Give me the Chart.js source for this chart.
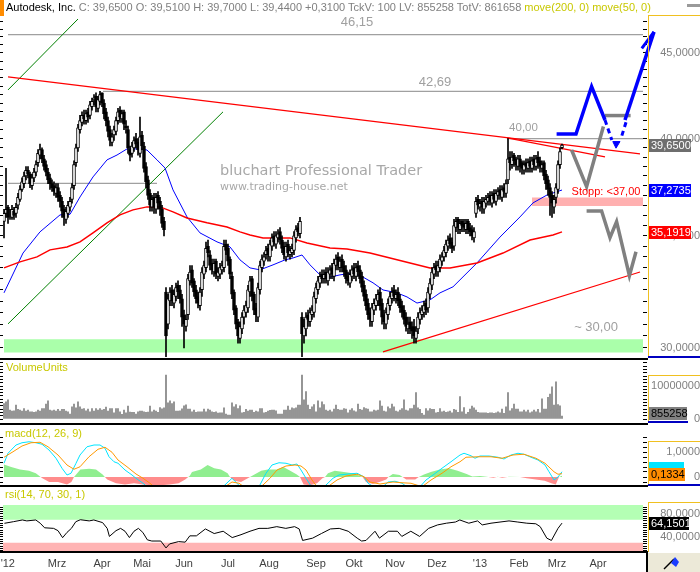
<!DOCTYPE html>
<html><head><meta charset="utf-8"><title>Autodesk, Inc.</title>
<script src="https://cdn.jsdelivr.net/npm/chart.js@4.4.1/dist/chart.umd.min.js"></script>
<style>
html,body{margin:0;padding:0;background:#fff;}
body{width:700px;height:572px;position:relative;overflow:hidden;font-family:"Liberation Sans",Arial,sans-serif;font-size:11px;}
canvas{position:absolute;left:0;}
.a{position:absolute;}
.t{position:absolute;white-space:nowrap;line-height:14px;font-size:11px;}
</style></head><body>
<canvas id="cMain" width="700" height="358" style="top:0;width:700px;height:358px"></canvas>
<canvas id="cVol" width="700" height="64" style="top:358px;width:700px;height:64px"></canvas>
<canvas id="cMacd" width="700" height="62" style="top:424px;width:700px;height:62px"></canvas>
<canvas id="cRsi" width="700" height="86" style="top:486px;width:700px;height:86px"></canvas>

<div class="a" style="left:0;top:0;width:4px;height:16px;background:#ff8c00"></div>
<div class="t" style="left:6px;top:0"><span style="color:#000">Autodesk, Inc.</span> <span style="color:#808080">C: 39,6500 O: 39,5100 H: 39,7000 L: 39,4400 +0,3100 TckV: 100 LV: 855258 TotV: 861658</span> <span style="color:#c8c800">move(200, 0) move(50, 0)</span></div>
<div class="a" style="left:687px;top:4px;width:13px;height:3px;background:#9a9a9a"></div>

<!-- right column frames -->
<div class="a" style="left:648px;top:15px;width:52px;height:1px;background:#f0c020"></div>
<div class="a" style="left:648px;top:15px;width:1px;height:342px;background:#f0c020"></div>
<div class="a" style="left:648px;top:356px;width:52px;height:2px;background:#0000c0"></div>
<div class="a" style="left:0;top:358px;width:648px;height:2px;background:#000"></div>

<div class="a" style="left:648px;top:375px;width:52px;height:1px;background:#f0c020"></div>
<div class="a" style="left:648px;top:375px;width:1px;height:47px;background:#f0c020"></div>
<div class="a" style="left:648px;top:421px;width:40px;height:2px;background:#0000c0"></div>
<div class="a" style="left:0;top:423px;width:648px;height:2px;background:#000"></div>

<div class="a" style="left:648px;top:441px;width:52px;height:1px;background:#f0c020"></div>
<div class="a" style="left:648px;top:441px;width:1px;height:44px;background:#f0c020"></div>
<div class="a" style="left:648px;top:484px;width:52px;height:2px;background:#0000c0"></div>
<div class="a" style="left:0;top:485px;width:648px;height:2px;background:#000"></div>

<div class="a" style="left:648px;top:502px;width:52px;height:1px;background:#f0c020"></div>
<div class="a" style="left:648px;top:502px;width:1px;height:50px;background:#f0c020"></div>
<div class="a" style="left:0;top:551px;width:648px;height:2px;background:#000"></div>
<div class="a" style="left:646px;top:551px;width:2px;height:21px;background:#000"></div>
<div class="a" style="left:648px;top:553px;width:52px;height:19px;background:#ece9d8"></div>
<svg class="a" style="left:662px;top:555px" width="22" height="16"><line x1="2" y1="14" x2="12" y2="4" stroke="#000" stroke-width="1.5"/><path d="M9 8 L13 2 L17 7 L14 12 Z" fill="#1a3cff"/></svg>

<div class="t" style="left:6px;top:360px;color:#c8c800">VolumeUnits</div>
<div class="t" style="left:5px;top:426px;color:#c8c800">macd(12, 26, 9)</div>
<div class="t" style="left:5px;top:487px;color:#c8c800">rsi(14, 70, 30, 1)</div>

<script>
// ---------------- DATA ----------------
const MONTH_TICKS  = [1.9, 26.5, 49, 69, 90, 112, 132.5, 156, 175, 195.5, 216.5, 238, 257.5, 276.5, 297];
const MONTH_LABELS = ["'12","Mrz","Apr","Mai","Jun","Jul","Aug","Sep","Okt","Nov","Dez","'13","Feb","Mrz","Apr"];

const OPEN = [35.7,36.1,36.4,36.0,35.9,36.2,36.1,36.5,36.8,37.3,
37.6,38.0,38.3,38.1,37.5,37.9,38.2,38.7,39.1,39.4,
38.9,38.6,38.2,37.9,37.6,37.5,37.1,37.4,37.0,36.7,
36.3,35.8,36.1,36.4,36.8,37.5,38.7,39.5,40.5,40.9,
41.3,41.0,41.5,41.3,41.8,42.2,42.4,41.7,42.1,42.6,
42.0,41.5,41.0,40.5,39.8,40.2,40.4,41.0,41.6,41.1,
41.5,40.7,40.5,39.4,39.2,39.5,40.0,39.8,39.2,40.2,
39.6,38.5,37.8,37.1,36.4,36.9,36.3,37.0,36.7,36.3,
35.7,32.4,31.0,32.0,32.5,31.9,32.2,32.7,32.5,32.1,
31.4,30.9,31.4,32.9,33.4,32.9,32.5,32.2,31.8,32.5,
33.2,33.5,34.5,34.1,33.7,33.3,33.8,33.1,33.2,33.4,
33.5,34.6,34.4,33.9,33.1,32.4,31.7,31.1,30.4,30.8,
31.3,31.5,31.7,32.4,33.0,32.3,31.7,31.3,32.5,33.5,
33.8,34.1,34.4,34.0,34.5,35.0,34.6,34.9,35.2,34.8,
34.5,34.0,34.6,34.1,34.2,34.3,34.9,35.4,35.1,31.3,
30.5,30.8,31.4,31.1,31.4,31.5,32.1,32.5,32.8,33.2,
33.0,33.3,32.9,33.2,33.5,33.1,33.6,34.0,33.5,33.9,
33.6,33.4,33.1,32.8,33.1,33.5,33.1,33.6,33.4,33.1,
32.7,32.3,31.9,31.5,31.1,31.6,31.8,32.0,32.4,31.9,
31.4,31.0,31.4,31.8,32.1,32.5,32.1,32.4,32.1,31.8,
31.6,31.3,30.8,31.1,30.9,30.9,30.4,30.8,31.2,31.4,
31.5,31.9,31.7,32.3,32.7,33.2,33.6,33.3,33.5,33.8,
34.0,34.2,34.5,34.9,34.7,34.5,35.4,35.8,35.3,35.7,
35.6,35.3,35.7,35.4,35.3,34.9,36.1,36.8,36.4,36.7,
36.3,36.6,36.7,37.0,36.6,37.1,36.7,37.0,37.3,36.9,
37.4,37.1,37.8,39.0,38.6,39.1,38.9,38.5,38.9,38.7,
38.3,38.7,38.4,38.8,38.4,38.9,38.5,39.0,38.8,38.4,
38.7,38.1,37.8,37.4,37.0,36.4,36.9,37.3,38.6,39.51];

const HIGH = [36.3,38.4,36.5,36.3,36.5,36.4,36.6,37.1,37.5,37.9,
38.2,38.5,38.5,38.2,38.1,38.4,38.8,39.4,39.7,39.5,
39.1,38.8,38.4,38.1,37.8,37.7,37.6,37.6,37.2,36.9,
36.5,36.4,36.7,36.9,37.6,38.8,39.7,40.8,41.3,41.5,
41.6,41.6,41.7,42.1,42.3,42.5,42.6,42.4,42.69,42.6,
42.2,41.7,41.2,40.7,40.3,40.7,41.2,41.7,41.8,41.6,
41.6,41.0,40.7,39.6,39.8,40.1,40.3,40.0,41.2,40.4,
39.8,38.7,38.0,37.3,37.0,37.1,37.1,37.2,36.9,36.5,
35.9,32.6,32.3,32.6,32.7,32.5,32.8,32.9,32.7,32.3,
31.6,31.4,33.2,33.6,33.6,33.0,32.7,32.4,32.6,33.5,
33.8,34.7,34.8,34.3,33.9,33.9,33.9,33.5,33.7,33.8,
34.8,34.8,34.6,34.0,33.3,32.5,31.8,31.2,31.1,31.5,
31.8,32.0,32.7,33.1,33.1,32.4,31.9,32.8,33.8,34.1,
34.2,34.5,34.6,34.8,35.1,35.2,35.2,35.3,35.4,35.0,
34.7,34.7,34.8,34.5,34.6,35.2,35.5,35.6,35.9,31.5,
31.2,31.5,31.6,31.7,31.8,32.4,32.8,33.1,33.3,33.4,
33.4,33.5,33.5,33.6,33.7,33.9,34.1,34.2,34.0,34.1,
33.8,33.6,33.3,33.4,33.6,33.7,33.7,33.8,33.6,33.3,
32.9,32.5,32.1,31.7,31.9,32.1,32.3,32.5,32.6,32.1,
31.6,31.7,32.1,32.4,32.6,32.7,32.5,32.6,32.3,32.0,
31.8,31.5,31.3,31.3,31.1,31.2,30.9,31.5,31.7,31.8,
32.0,32.1,32.6,33.0,33.5,33.7,33.8,33.8,34.1,34.2,
34.5,34.8,35.0,35.1,34.9,35.8,35.9,35.9,35.8,35.8,
35.8,35.8,35.8,35.6,35.5,35.4,36.9,37.0,36.8,36.9,
36.9,37.0,37.1,37.2,37.2,37.3,37.3,37.4,37.5,37.5,
37.6,37.8,40.0,39.3,39.3,39.2,39.0,39.1,39.1,38.8,
38.8,38.9,38.9,39.0,39.0,39.1,39.1,39.3,39.0,38.8,
38.8,38.3,38.0,37.6,37.2,37.0,37.6,38.8,39.5,39.70];

const LOW = [34.9,35.9,35.6,35.8,35.8,35.8,35.9,36.3,36.7,37.2,
37.4,37.8,37.9,37.4,37.3,37.7,38.0,38.5,38.9,38.7,
38.3,38.0,37.6,37.3,37.2,37.0,36.9,36.7,36.4,35.9,
35.5,35.6,35.9,36.2,36.6,37.3,38.5,39.3,40.3,40.7,
40.8,40.8,40.9,41.1,41.6,41.9,41.5,41.5,41.9,41.8,
41.1,40.7,40.1,39.6,39.6,39.9,40.2,40.8,40.9,40.9,
40.5,40.3,39.2,38.8,39.0,39.3,39.5,39.1,39.0,39.4,
38.2,37.4,36.8,36.2,36.2,36.1,36.1,36.3,36.0,35.4,
35.0,29.5,30.8,31.8,31.8,31.7,32.0,32.1,31.9,30.9,
30.0,30.7,31.2,32.7,32.6,32.2,31.9,31.7,31.6,32.2,
33.0,33.3,34.0,33.4,33.2,33.1,33.0,32.9,33.0,33.2,
33.3,34.1,33.6,33.0,32.1,31.4,30.8,30.2,30.2,30.6,
31.0,31.3,31.5,32.2,32.0,31.4,31.1,31.1,32.3,33.3,
33.6,33.9,33.8,33.8,34.3,34.5,34.4,34.7,34.6,34.2,
33.9,33.8,34.0,33.9,34.0,34.1,34.7,35.0,34.9,29.5,
30.2,30.5,30.9,30.9,31.2,31.3,31.9,32.3,32.6,32.8,
32.8,32.8,32.7,33.0,33.0,32.9,33.4,33.4,33.3,33.3,
33.1,32.8,32.7,32.6,32.9,33.0,32.9,33.1,32.8,32.4,
32.0,31.6,31.2,30.9,30.9,31.4,31.6,31.8,31.6,31.0,
30.8,30.8,31.2,31.6,31.9,32.0,31.9,31.8,31.5,31.3,
31.0,30.7,30.6,30.6,30.4,30.2,30.2,30.6,31.0,31.2,
31.3,31.4,31.5,32.1,32.5,33.0,33.1,33.1,33.3,33.6,
33.8,34.0,34.3,34.4,34.2,34.3,35.2,35.1,35.1,35.2,
35.2,35.1,35.1,35.0,34.8,34.7,35.9,36.3,36.2,36.1,
36.1,36.4,36.5,36.5,36.4,36.6,36.5,36.8,36.8,36.7,
36.9,36.9,37.6,38.3,38.4,38.5,38.3,38.3,38.2,38.1,
38.1,38.2,38.2,38.2,38.2,38.3,38.3,38.4,38.2,38.2,
37.8,37.3,37.0,36.0,35.9,36.1,36.6,37.1,38.4,39.44];

const CLOSE = [36.1,36.3,35.9,36.0,36.3,36.0,36.4,36.9,37.3,37.7,
38.0,38.3,38.1,37.6,37.9,38.2,38.6,39.2,39.4,38.9,
38.5,38.2,37.8,37.6,37.4,37.2,37.4,36.9,36.7,36.2,
35.9,36.2,36.5,36.7,37.4,38.6,39.5,40.6,41.0,41.3,
41.1,41.4,41.2,41.9,42.1,42.3,41.8,42.2,42.5,42.0,
41.4,41.0,40.4,39.9,40.1,40.5,41.0,41.5,41.2,41.4,
40.8,40.6,39.5,39.1,39.6,39.9,39.7,39.4,40.1,39.6,
38.4,37.7,37.0,36.5,36.8,36.4,36.9,36.6,36.3,35.6,
35.3,30.5,32.1,32.4,32.0,32.3,32.6,32.4,32.1,31.3,
31.0,31.2,33.0,33.3,32.8,32.4,32.1,31.9,32.4,33.3,
33.6,34.4,34.2,33.6,33.4,33.7,33.2,33.3,33.5,33.6,
34.5,34.3,33.8,33.2,32.3,31.6,31.0,30.5,30.9,31.3,
31.6,31.8,32.5,32.9,32.2,31.6,31.4,32.6,33.6,33.9,
34.0,34.3,34.1,34.6,34.9,34.7,35.0,35.1,34.8,34.4,
34.1,34.5,34.2,34.3,34.4,35.0,35.3,35.2,35.7,30.6,
30.9,31.3,31.2,31.5,31.6,32.2,32.6,32.9,33.1,33.0,
33.2,33.0,33.3,33.4,33.2,33.7,33.9,33.6,33.8,33.5,
33.3,33.0,32.9,33.2,33.4,33.2,33.5,33.3,33.0,32.6,
32.2,31.8,31.4,31.2,31.7,31.9,32.1,32.3,31.8,31.3,
31.1,31.5,31.9,32.2,32.4,32.2,32.3,32.0,31.7,31.5,
31.2,30.9,31.0,30.8,30.7,30.5,30.7,31.3,31.5,31.6,
31.8,31.6,32.4,32.8,33.3,33.5,33.4,33.6,33.9,34.0,
34.3,34.6,34.8,34.6,34.4,35.5,35.7,35.4,35.6,35.5,
35.4,35.6,35.3,35.2,35.0,35.2,36.7,36.5,36.6,36.4,
36.7,36.8,36.9,36.7,37.0,36.8,37.1,37.2,37.0,37.3,
37.2,37.6,38.9,38.7,39.0,38.8,38.6,38.9,38.5,38.4,
38.6,38.5,38.7,38.5,38.8,38.6,38.9,38.7,38.5,38.6,
38.0,37.6,37.3,36.9,36.6,36.8,37.4,38.6,39.3,39.65];

// volume in millions of units
const VOLUME_M = [4.7,5.2,5.8,2.7,2.4,2.5,4.2,2.9,2.7,2.4,
3.2,2.4,2.7,2.2,2.2,2.0,2.2,2.7,2.4,3.2,
3.2,4.5,5.5,2.7,2.5,2.7,2.4,2.9,2.4,2.9,
2.9,2.4,2.2,1.5,3.7,4.5,3.4,5.2,3.7,3.0,
3.2,2.5,3.0,2.2,3.2,2.4,3.2,2.7,3.2,2.7,
2.9,3.6,2.4,3.2,3.2,1.9,3.2,3.2,2.2,1.4,
2.7,1.9,3.9,2.1,2.0,2.0,1.5,2.2,2.4,2.4,
2.2,2.0,2.1,3.9,2.2,2.7,2.4,2.0,3.5,3.1,
3.4,13.3,4.9,5.5,4.7,5.2,2.4,2.4,2.5,3.1,
4.0,4.3,3.0,3.0,2.2,2.7,2.0,2.2,2.2,2.2,
3.0,2.2,3.0,2.7,2.2,2.0,2.2,1.8,1.9,1.9,
3.4,1.5,1.2,1.2,4.9,3.7,4.4,3.2,4.0,1.9,
2.0,2.9,2.4,2.7,2.7,2.0,2.4,2.2,3.2,3.2,
1.9,2.0,2.4,2.6,2.7,2.7,2.5,1.5,1.5,1.5,
2.7,2.7,3.9,2.7,3.4,3.2,3.4,4.2,4.2,13.3,
5.8,8.3,4.2,2.9,3.7,4.4,2.2,5.5,3.4,5.2,
4.4,2.7,2.4,
2.7,2.2,3.0,4.2,2.9,2.7,2.7,3.2,3.0,1.9,
2.7,3.2,2.5,2.2,4.5,2.9,2.7,3.5,3.2,3.0,
2.2,2.2,2.7,2.5,2.7,5.5,3.9,2.4,2.2,3.7,
3.2,4.5,3.7,2.4,2.2,2.7,3.2,5.8,2.7,2.5,
3.2,3.2,4.2,8.0,3.4,2.9,1.7,1.2,3.2,2.5,
3.2,2.9,2.9,1.9,2.0,3.2,2.2,2.4,2.0,2.2,
2.4,1.9,2.9,2.7,2.0,6.8,2.2,3.5,1.5,2.0,
3.0,3.9,3.4,2.7,2.0,1.9,1.9,1.9,1.9,1.7,
1.9,1.9,1.7,1.9,2.2,1.9,3.0,1.7,3.7,8.0,
2.5,3.2,4.5,3.0,3.0,2.2,2.2,2.7,2.2,2.7,
1.9,2.2,2.7,2.2,2.9,1.9,6.1,3.0,3.0,6.6,
7.6,9.8,4.2,11.3,4.4,4.0,0.855258];

// moving averages: [bar index, value]
const MA200_PTS = [[0,33.49],[8,33.77],[16.5,34.0],[23,34.33],[31.5,34.47],[38,34.71],[44.5,35.14],[51.5,35.63],[58,36.02],[64.5,36.27],[71.5,36.42],[78,36.42],[84.5,36.17],[91.5,35.87],[101.5,35.63],[111.5,35.43],[118,35.19],[123,35.04],[129.5,34.9],[143,34.9],[151.5,34.66],[163,34.42],[171.5,34.37],[183,34.18],[193,33.95],[203,33.72],[213,33.49],[223,33.49],[236.5,33.72],[249.5,34.18],[263,34.8],[274.5,35.04],[279,35.1919]];
const MA50_PTS = [[0,32.36],[9.5,34.18],[18,35.19],[28,36.02],[33,36.05],[38,36.92],[44.5,37.95],[51.5,38.85],[56.5,39.11],[61.5,39.44],[68,39.44],[71.5,39.38],[76.5,38.85],[80.5,38.42],[84.5,37.28],[91.5,35.92],[98,35.14],[106.5,34.71],[113,34.47],[118,33.86],[123,33.49],[128,33.4],[134.5,33.63],[140.5,33.86],[144.5,33.95],[149,34.09],[153,33.63],[158,33.17],[163,33.07],[168,33.17],[174.5,33.26],[179.5,33.07],[184.5,32.81],[189.5,32.49],[196.5,32.36],[201.5,32.18],[206.5,31.91],[213,32.05],[218,32.36],[224.5,32.63],[236.5,33.72],[248,34.94],[258,35.92],[264.5,36.62],[271.5,37.02],[279,37.2735]];

// drawn trend lines, levels, zones and forecast paths: [bar index, price]
const TREND_DOWN   = [[2,43.54],[318,39.17]];
const TREND_DOWN_2 = [[251.5,40.04],[300.5,39.01]];
const TREND_UP     = [[189.5,29.84],[318,33.30]];
const GREEN_LINE_1 = [[2,42.77],[37,47.15]];
const GREEN_LINE_2 = [[2,31.01],[109.5,41.50]];
const LEVEL_4615 = [[2,46.15],[320,46.15]];
const LEVEL_4269 = [[49.5,42.69],[320,42.69]];
const LEVEL_4000 = [[251.5,40.0],[320,40.0]];
const LEVEL_3762 = [[2,37.62],[76.5,37.62]];
const SUPPORT_ZONE = [0, 319.5, 29.81, 30.36];   // from, to, low, high
const STOP_ZONE    = [264, 319.5, 36.47, 36.89];
const BLUE_PATH      = [[276.3,40.26],[286,40.26],[293.8,42.97],[300.5,41.04]];
const BLUE_DASH_L    = [[300.5,41.04],[303.9,39.93]];
const BLUE_DASH_R    = [[311,40.91],[308.4,39.98]];
const BLUE_HEAD_DOWN = [[304.4,39.84],[308,39.84],[306,39.48],[304.4,39.84]];
const BLUE_RISE      = [[310.5,41.04],[325,46.32]];
const BLUE_HEAD_UP   = [[318.9,45.29],[325,46.32],[325.5,44.92]];
const GREY_PATH_1    = [[283.8,39.38],[291.3,37.45],[299.7,40.67]];
const GREY_BAR       = [[300.5,41.29],[313.3,41.29]];
const GREY_PATH_2    = [[291.3,36.22],[298.8,36.22],[303,34.91],[306.3,35.69],[312.7,33.13],[316,34.24]];
const ANNOTATIONS = [
  {text:'46,15', x:176.5, v:46.96, color:'#a0a0a0', size:13},
  {text:'42,69', x:215.5, v:43.24, color:'#a0a0a0', size:13},
  {text:'40,00', x:259.75, v:40.59, color:'#a0a0a0', size:11.5},
  {text:'~ 30,00', x:296, v:30.88, color:'#a0a0a0', size:13},
  {text:'Stopp: <37,00', x:301, v:37.18, color:'#ff0000', size:11}
];
const WATERMARK = ['bluchart Professional Trader', 'www.trading-house.net'];
const LAST = {price:39.65, ma50:37.2735, ma200:35.1919, volume:855258, macd:0.21, signal:0.1334, rsi:64.1501};

// indicators
const RSI_PTS = [[0.2,63.8],[4.7,66.6],[9.2,69.6],[11.4,68],[15.9,69.6],[18.1,64],[20.3,56],[24.8,55],[27,51],[29.3,38.8],[31.5,48],[33.7,55],[35.9,66.6],[38.2,70],[42.6,68],[44.9,69.6],[49.3,65],[51.6,55],[52.7,41],[56,51],[58.3,55],[60.5,50],[62.7,39],[65,50],[67.2,55],[69.4,48],[71.7,35],[73.9,33],[78.4,33],[81,21],[82.8,28],[87.3,32],[90.6,31],[92.9,42],[96.2,42],[100.7,54],[105.1,46],[109.6,50],[114.1,39],[118.5,44],[123,50],[127.5,55],[131.9,55],[136.4,58],[140.9,55],[145.3,58],[147.6,54],[149.3,34],[154.3,38],[158.7,46],[163.2,54],[167.6,55],[172.1,50],[176.6,38],[178.8,33],[181,34],[185.5,50],[187.7,38],[192.2,50],[196.7,50],[198.9,41],[203.4,50],[207.8,41],[212.3,55],[216.8,61],[221.2,64],[225.7,66],[227.9,69.6],[232.4,64],[236.8,68],[239.1,61],[243.5,64],[248,66],[252.5,68],[256.9,66],[261.4,64],[265.9,63],[268.1,58],[271.4,38],[273.7,34],[277,55],[279,64.1501]];
const MACD_PTS = [[0,0.55],[2,0.95],[6,1.28],[9,1.37],[12.5,1.41],[16,1.37],[19,1.31],[22.5,1.08],[26,0.75],[29,0.35],[31.5,0.08],[33.5,0.15],[36,0.55],[38,0.88],[41.5,1.21],[45,1.28],[48,1.28],[50.5,1.15],[52.5,0.81],[55,0.61],[57,0.55],[60.5,0.28],[64,0.08],[66,-0.05],[69.5,-0.25],[71.5,-0.39],[76,-0.6],[82,-1.0],[90,-1.0],[98,-0.8],[105,-0.55],[109.5,-0.39],[112,-0.2],[114,-0.05],[116.5,-0.25],[118.5,-0.42],[123,-0.7],[127.5,-0.39],[131,0.15],[134,0.48],[137.5,0.57],[141,0.55],[144,0.48],[146.5,0.52],[148.5,0.28],[151,-0.05],[154,-0.42],[157,-0.6],[161,-0.32],[164.5,-0.05],[167.5,0.08],[172,0.12],[176.5,0.15],[180,0.01],[182,-0.25],[185.5,-0.42],[188,-0.5],[192,-0.2],[195.5,-0.17],[199,-0.25],[202,-0.42],[205,-0.55],[208,-0.39],[211,-0.12],[214.5,0.08],[219,0.35],[223.5,0.61],[228,0.88],[230,0.95],[233.5,0.85],[235.5,0.75],[238,0.84],[242.5,0.84],[247,0.79],[250,0.72],[253.5,0.88],[257,0.95],[260,0.91],[263.5,0.79],[267,0.68],[270.5,0.48],[272.5,0.21],[275,-0.12],[277,0.0],[279,0.21]];
const SIGNAL_PTS = [[0,0.79],[4.5,1.01],[9,1.24],[13.5,1.37],[18,1.39],[22,1.21],[27,0.88],[31.5,0.48],[35,0.31],[38,0.41],[42.5,0.81],[47,1.11],[50.5,1.19],[54,0.99],[57,0.68],[61.5,0.41],[66,0.12],[69.5,-0.05],[73,-0.25],[75,-0.39],[85,-0.8],[97,-0.9],[105,-0.6],[110.5,-0.39],[114,-0.2],[117.5,-0.25],[121,-0.45],[126,-0.5],[129.5,-0.32],[133,-0.05],[136.5,0.28],[141,0.44],[145.5,0.48],[148.5,0.44],[151,0.28],[154,-0.12],[156.5,-0.39],[160,-0.5],[166.5,-0.12],[171,0.04],[176.5,0.11],[180,0.01],[183,-0.2],[188,-0.28],[194.5,-0.2],[199,-0.23],[203.5,-0.25],[209,-0.39],[213.5,-0.12],[219,0.15],[223.5,0.41],[228,0.61],[231,0.79],[237,0.81],[243.5,0.81],[249,0.75],[254.5,0.88],[260,0.91],[266,0.75],[270.5,0.55],[275,0.21],[277,0.11],[279,0.1334]];
const HIST_PTS = [[0,0.5],[3.6,0.4],[8,0.3],[12.5,0.25],[15.9,0.15],[18,0.02],[19.2,-0.05],[22.6,-0.2],[27,-0.2],[31.5,-0.3],[33.7,-0.2],[35,0],[38.2,0.3],[42.6,0.33],[46,0.3],[49.3,0.1],[51.6,-0.1],[56,-0.25],[60.5,-0.3],[65,-0.25],[69.4,-0.3],[73.9,-0.33],[78.4,-0.33],[82.8,-0.3],[87.3,-0.25],[90.6,-0.1],[92.9,0.05],[94,0.2],[98.4,0.3],[101.8,0.48],[105.1,0.35],[108.5,0.3],[111.8,0.15],[113,0],[115.2,-0.15],[118.5,-0.2],[121.9,-0.05],[124.1,0.05],[128.6,0.25],[131.9,0.3],[136.4,0.3],[139.7,0.4],[143.1,0.25],[146.4,0.1],[148,0],[149.8,-0.3],[153.1,-0.33],[156.5,-0.25],[159.2,-0.05],[160.5,0],[162,0.15],[165.4,0.25],[169.9,0.2],[174.3,0.15],[177.7,0.05],[179.3,0],[181,-0.2],[184.4,-0.28],[187.7,-0.2],[191.1,-0.1],[192.2,0],[194.4,0.12],[197.8,0.08],[199.3,0],[201.1,-0.1],[205.6,-0.1],[207.4,0],[210,0.1],[213.4,0.2],[217.9,0.3],[222.3,0.35],[226.8,0.25],[231.3,0.12],[234.2,0.02],[238,0.04],[241.3,0.01],[244.7,-0.03],[246.9,0.01],[249.1,-0.03],[252.5,0.01],[258,0],[261.4,-0.05],[265.9,-0.1],[270.3,-0.15],[273.7,-0.25],[275.9,-0.3],[277.5,0],[279,0.05]];

// ---------------- CHARTS ----------------
if (OPEN.length!==CLOSE.length||HIGH.length!==CLOSE.length||LOW.length!==CLOSE.length||VOLUME_M.length!==CLOSE.length)
  throw new Error('length mismatch '+[OPEN.length,HIGH.length,LOW.length,CLOSE.length,VOLUME_M.length].join(','));

Chart.defaults.font.family = '"Liberation Sans", Arial, sans-serif';
Chart.defaults.font.size = 11;
Chart.defaults.animation = false;
Chart.defaults.plugins.legend.display = false;
Chart.defaults.plugins.tooltip.enabled = false;

const X_MIN = -0.5, X_MAX = 319.5;
const fmt4 = v => v.toFixed(4).replace('.', ',');
const P = arr => arr.map(p => ({x:p[0], y:p[1]}));
const setTicks = vals => s => { s.ticks = vals.map(v => ({value:v})); };
const noPad = s => { s.paddingTop = 0; s.paddingBottom = 0; s.paddingLeft = 0; s.paddingRight = 0; };
function range(a, b, step){ const r=[]; for(let k=0;a+k*step<=b+1e-9;k++) r.push(+(a+k*step).toFixed(6)); return r; }

function yScales(type, min, max, vals, labelFn, pad){
  return {
    y: {type, position:'right', min, max, bounds:'data', afterBuildTicks:setTicks(vals), afterFit:s=>{s.width=57; noPad(s);},
        ticks:{autoSkip:false, crossAlign:'far', padding:pad, color:'#808080', font:{size:11}, callback:v=>labelFn(v)},
        grid:{drawOnChartArea:false, drawTicks:true, tickLength:4, color:'#000', lineWidth:1}, border:{display:false}},
    yl:{type, position:'left', min, max, bounds:'data', afterBuildTicks:setTicks(vals), afterFit:s=>{s.width=3; noPad(s);},
        ticks:{display:false, autoSkip:false},
        grid:{drawOnChartArea:false, drawTicks:true, tickLength:3, color:'#000', lineWidth:1}, border:{display:false}}
  };
}
const xHidden = {type:'linear', min:X_MIN, max:X_MAX, bounds:'data', offset:false, display:false};

function line(pts, color, width, extra){
  return Object.assign({type:'line', data:P(pts), borderColor:color, borderWidth:width, pointRadius:0, fill:false, tension:0, yAxisID:'y', xAxisID:'x'}, extra||{});
}
function band(z, color, order){
  return {type:'line', data:[{x:z[0],y:z[2]},{x:z[1],y:z[2]}], borderWidth:0, pointRadius:0, fill:{value:z[3]}, backgroundColor:color, order, yAxisID:'y', xAxisID:'x'};
}
function valueBox(ctx, y, text, bg, fg, w){
  y = Math.round(y);
  ctx.fillStyle = bg; ctx.fillRect(649, y-6, w, 13);
  ctx.fillStyle = fg; ctx.font = '11px "Liberation Sans", Arial, sans-serif';
  ctx.textAlign = 'left'; ctx.textBaseline = 'middle';
  ctx.fillText(text, 651, y+0.5);
}

// ---- main price panel ----
const mainPlugin = {
  id:'mainDeco',
  beforeDatasetsDraw(chart){
    const ctx = chart.ctx; ctx.save();
    ctx.fillStyle = '#a8a8a8'; ctx.textAlign='left'; ctx.textBaseline='middle';
    ctx.font = '14.5px "DejaVu Sans", sans-serif'; ctx.fillText(WATERMARK[0], 220, 171);
    ctx.font = '11px "DejaVu Sans", sans-serif'; ctx.fillText(WATERMARK[1], 220, 187);
    ctx.restore();
  },
  afterDraw(chart){
    const ctx = chart.ctx, xs = chart.scales.x, ys = chart.scales.y;
    ctx.save();
    ctx.textAlign='center'; ctx.textBaseline='middle';
    ANNOTATIONS.forEach(a => {
      ctx.font = a.size + 'px "Liberation Sans", Arial, sans-serif'; ctx.fillStyle = a.color;
      ctx.fillText(a.text, xs.getPixelForValue(a.x), ys.getPixelForValue(a.v));
    });
    valueBox(ctx, ys.getPixelForValue(LAST.price), fmt4(LAST.price), '#6e6e6e', '#fff', 42);
    valueBox(ctx, ys.getPixelForValue(LAST.ma50), fmt4(LAST.ma50), '#0000ff', '#fff', 42);
    valueBox(ctx, ys.getPixelForValue(LAST.ma200), fmt4(LAST.ma200), '#ff0000', '#fff', 42);
    ctx.restore();
  }
};

const wickData = CLOSE.map((c,i) => ({x:i, y:[Math.min(LOW[i],OPEN[i],c), Math.max(HIGH[i],OPEN[i],c)]}));
const bodyData = CLOSE.map((c,i) => ({x:i, y:[OPEN[i], c]}));
const bodyColors = CLOSE.map((c,i) => c >= OPEN[i] ? '#ffffff' : '#000000');

new Chart(document.getElementById('cMain'), {
  type:'line',
  data:{datasets:[
    line(BLUE_HEAD_UP, '#0000ff', 3, {order:0, clip:false}),
    line(BLUE_RISE, '#0000ff', 3.5, {order:0, clip:false}),
    line(BLUE_PATH, '#0000ff', 3.5, {order:0}),
    line(BLUE_DASH_L, '#0000ff', 3, {order:0, borderDash:[5,4]}),
    line(BLUE_DASH_R, '#0000ff', 3, {order:0, borderDash:[5,4]}),
    line(BLUE_HEAD_DOWN, '#0000ff', 1, {order:0, fill:'shape', backgroundColor:'#0000ff'}),
    line(GREY_PATH_1, '#808080', 3.5, {order:1}),
    line(GREY_BAR, '#808080', 3.5, {order:1}),
    line(GREY_PATH_2, '#808080', 3.5, {order:1}),
    {type:'bar', data:bodyData, backgroundColor:bodyColors, borderColor:'#000', borderWidth:1, borderSkipped:false, barThickness:3, grouped:false, order:4, yAxisID:'y', xAxisID:'x'},
    {type:'bar', data:wickData, backgroundColor:'#000', barThickness:1, grouped:false, order:5, yAxisID:'y', xAxisID:'x'},
    line(TREND_DOWN, '#ff0000', 1.2, {order:6}),
    line(TREND_DOWN_2, '#ff0000', 1.2, {order:6}),
    line(TREND_UP, '#ff0000', 1.2, {order:6}),
    line(MA200_PTS, '#ff0000', 1.5, {order:7}),
    line(MA50_PTS, '#0000ff', 1, {order:7}),
    line(GREEN_LINE_1, '#008000', 1, {order:8}),
    line(GREEN_LINE_2, '#008000', 1, {order:8}),
    line(LEVEL_4615, '#a0a0a0', 1.3, {order:9}),
    line(LEVEL_4269, '#a0a0a0', 1.3, {order:9}),
    line(LEVEL_4000, '#a0a0a0', 1.3, {order:9}),
    line(LEVEL_3762, '#a0a0a0', 1.3, {order:9}),
    band(STOP_ZONE, '#ffb0b0', 20),
    band(SUPPORT_ZONE, '#aaffaa', 20)
  ]},
  options:{
    responsive:false, devicePixelRatio:1,
    layout:{padding:{top:19, bottom:1, left:0, right:0}},
    scales:Object.assign({x:xHidden}, yScales('logarithmic', 29.63, 47.15, range(30, 47, 0.5),
      v => (Math.abs(v % 5) < 1e-9 ? fmt4(v) : ''), 13))
  },
  plugins:[mainPlugin]
});

// ---- volume panel ----
new Chart(document.getElementById('cVol'), {
  type:'bar',
  data:{datasets:[{type:'bar', data:VOLUME_M.map((v,i)=>({x:i,y:v})), backgroundColor:'#808080', barThickness:1, grouped:false, yAxisID:'y', xAxisID:'x'}]},
  options:{
    responsive:false, devicePixelRatio:1,
    layout:{padding:{top:4, bottom:3, left:0, right:0}},
    scales:Object.assign({x:xHidden}, yScales('linear', 0, 17.3, range(0, 17, 1),
      v => (v === 0 ? '0' : (v === 10 ? String(v*1000000) : '')), 4))
  },
  plugins:[{id:'volBox', afterDraw(chart){ const ctx=chart.ctx; ctx.save();
    valueBox(ctx, chart.scales.y.getPixelForValue(LAST.volume/1e6) - 3, String(LAST.volume), '#808080', '#000', 38); ctx.restore(); }}]
});

// ---- MACD panel ----
new Chart(document.getElementById('cMacd'), {
  type:'line',
  data:{datasets:[
    line(MACD_PTS, '#00e5ff', 1, {order:1}),
    line(SIGNAL_PTS, '#ff9900', 1, {order:0}),
    {type:'line', data:P(HIST_PTS), borderWidth:0, pointRadius:0, tension:0, fill:{target:'origin', above:'#90ee90', below:'#ff8c8c'}, order:5, yAxisID:'y', xAxisID:'x'}
  ]},
  options:{
    responsive:false, devicePixelRatio:1,
    layout:{padding:{top:13, bottom:0, left:0, right:0}},
    scales:Object.assign({x:xHidden}, yScales('linear', -0.36, 1.6, range(-0.2, 1.6, 0.2),
      v => (Math.abs(v) < 1e-9 ? '0' : (Math.abs(v-1) < 1e-9 ? '1,0000' : '')), 19))
  },
  plugins:[{id:'macdBox', afterDraw(chart){ const ctx=chart.ctx, ys=chart.scales.y; ctx.save();
    valueBox(ctx, ys.getPixelForValue(LAST.macd) - 4, '', '#00e5ff', '#000', 35);
    valueBox(ctx, ys.getPixelForValue(LAST.signal), fmt4(LAST.signal), '#ff8c00', '#000', 36);
    ctx.restore(); }}]
});

// ---- RSI panel ----
new Chart(document.getElementById('cRsi'), {
  type:'line',
  data:{datasets:[
    line(RSI_PTS, '#000000', 1, {order:0}),
    {type:'line', data:[{x:X_MIN,y:70},{x:X_MAX,y:70}], borderWidth:0, pointRadius:0, fill:'end', backgroundColor:'#b4ffb4', order:5, yAxisID:'y', xAxisID:'x'},
    {type:'line', data:[{x:X_MIN,y:30},{x:X_MAX,y:30}], borderWidth:0, pointRadius:0, fill:'start', backgroundColor:'#ffb4b4', order:5, yAxisID:'y', xAxisID:'x'}
  ]},
  options:{
    responsive:false, devicePixelRatio:1,
    layout:{padding:{top:19, bottom:0, left:0, right:0}},
    scales:Object.assign({
      x:{type:'linear', min:X_MIN, max:X_MAX, bounds:'data', offset:false, position:'bottom',
         afterBuildTicks:setTicks(MONTH_TICKS), afterFit:s=>{s.height=20; noPad(s);},
         ticks:{autoSkip:false, maxRotation:0, padding:5, color:'#404040', font:{size:11}, callback:(v,i)=>MONTH_LABELS[i]},
         grid:{display:false, drawTicks:false}, border:{display:false}}
    }, yScales('linear', 13.9, 95.65, range(16, 92, 4),
      v => (v === 80 || v === 40 ? fmt4(v) : ''), 13))
  },
  plugins:[{id:'rsiBox', afterDraw(chart){ const ctx=chart.ctx; ctx.save();
    valueBox(ctx, chart.scales.y.getPixelForValue(LAST.rsi), fmt4(LAST.rsi), '#000', '#fff', 40); ctx.restore(); }}]
});
</script>
</body></html>
